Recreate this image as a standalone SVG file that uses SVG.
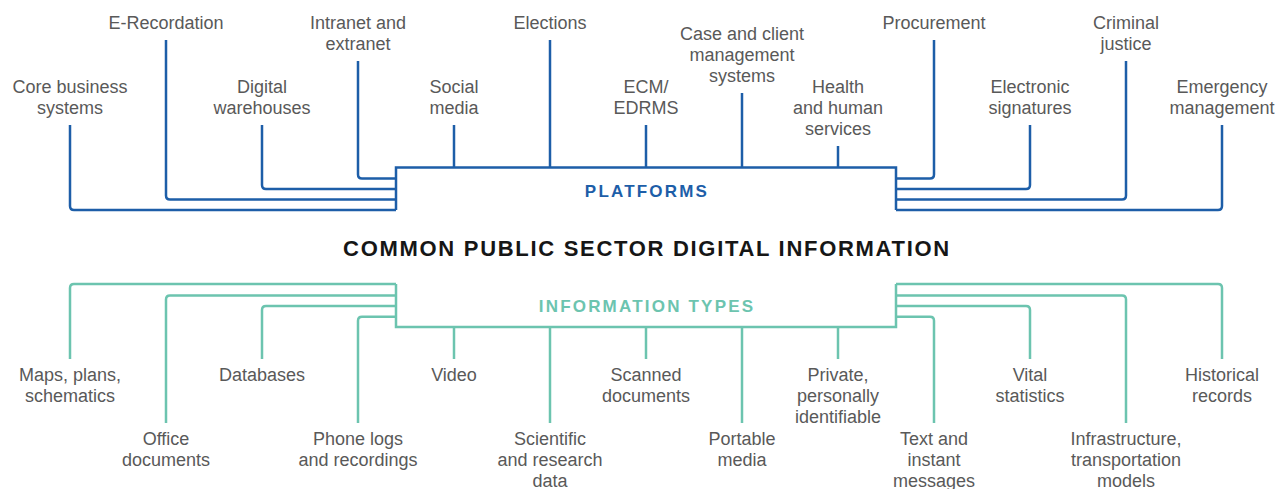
<svg xmlns="http://www.w3.org/2000/svg" width="1288" height="489" viewBox="0 0 1288 489">
<style>
.lbl{font-family:"Liberation Sans",Arial,sans-serif;font-size:18px;fill:#595959;text-anchor:middle}
.blue{fill:none;stroke:#1d5ea8;stroke-width:2.5}
.teal{fill:none;stroke:#6cc4af;stroke-width:2.5}
.cap{font-family:"Liberation Sans",Arial,sans-serif;font-size:17px;font-weight:bold;letter-spacing:2.2px;text-anchor:middle}
.title{font-family:"Liberation Sans",Arial,sans-serif;font-size:22px;font-weight:bold;letter-spacing:1.7px;fill:#161616;text-anchor:middle}
</style>
<rect width="1288" height="489" fill="#ffffff"/>
<g id="connectors">
<g class="blue">
<path d="M396,210 V167.5 H896 V210"/>
<path d="M70,125 V206 Q70,210 74,210 H396"/>
<path d="M166,40 V195.5 Q166,199.5 170,199.5 H396"/>
<path d="M262,125 V185 Q262,189 266,189 H396"/>
<path d="M358,61 V174.5 Q358,178.5 362,178.5 H396"/>
<path d="M454,125 V167.5"/>
<path d="M550,40 V167.5"/>
<path d="M646,125 V167.5"/>
<path d="M742,93 V167.5"/>
<path d="M838,146 V167.5"/>
<path d="M934,40 V174.5 Q934,178.5 930,178.5 H896"/>
<path d="M1030,125 V185 Q1030,189 1026,189 H896"/>
<path d="M1126,61 V195.5 Q1126,199.5 1122,199.5 H896"/>
<path d="M1222,125 V206 Q1222,210 1218,210 H896"/>
</g>
<g class="teal">
<path d="M396,284 V327 H896 V284"/>
<path d="M70,359 V288 Q70,284 74,284 H396"/>
<path d="M166,423 V299.5 Q166,295.5 170,295.5 H396"/>
<path d="M262,359 V310 Q262,306 266,306 H396"/>
<path d="M358,423 V320.7 Q358,316.7 362,316.7 H396"/>
<path d="M454,327 V359"/>
<path d="M550,327 V423"/>
<path d="M646,327 V359"/>
<path d="M742,327 V423"/>
<path d="M838,327 V359"/>
<path d="M934,423 V320.7 Q934,316.7 930,316.7 H896"/>
<path d="M1030,359 V310 Q1030,306 1026,306 H896"/>
<path d="M1126,423 V299.5 Q1126,295.5 1122,295.5 H896"/>
<path d="M1222,359 V288 Q1222,284 1218,284 H896"/>
</g>
</g>
<g id="platforms"><text class="cap" x="647" y="196.5" fill="#1d5ea8">PLATFORMS</text></g>
<g id="title"><text class="title" x="647" y="255.5">COMMON PUBLIC SECTOR DIGITAL INFORMATION</text></g>
<g id="information-types"><text class="cap" x="647" y="312" fill="#6cc4af">INFORMATION TYPES</text></g>
<g id="core-business"><text class="lbl" x="70" y="93"><tspan x="70">Core business</tspan><tspan x="70" dy="21">systems</tspan></text></g>
<g id="e-recordation"><text class="lbl" x="166" y="29">E-Recordation</text></g>
<g id="digital-warehouses"><text class="lbl" x="262" y="93"><tspan x="262">Digital</tspan><tspan x="262" dy="21">warehouses</tspan></text></g>
<g id="intranet"><text class="lbl" x="358" y="29"><tspan x="358">Intranet and</tspan><tspan x="358" dy="21">extranet</tspan></text></g>
<g id="social-media"><text class="lbl" x="454" y="93"><tspan x="454">Social</tspan><tspan x="454" dy="21">media</tspan></text></g>
<g id="elections"><text class="lbl" x="550" y="29">Elections</text></g>
<g id="ecm"><text class="lbl" x="646" y="93"><tspan x="646">ECM/</tspan><tspan x="646" dy="21">EDRMS</tspan></text></g>
<g id="case-client"><text class="lbl" x="742" y="40"><tspan x="742">Case and client</tspan><tspan x="742" dy="21">management</tspan><tspan x="742" dy="21">systems</tspan></text></g>
<g id="health"><text class="lbl" x="838" y="93"><tspan x="838">Health</tspan><tspan x="838" dy="21">and human</tspan><tspan x="838" dy="21">services</tspan></text></g>
<g id="procurement"><text class="lbl" x="934" y="29">Procurement</text></g>
<g id="electronic-signatures"><text class="lbl" x="1030" y="93"><tspan x="1030">Electronic</tspan><tspan x="1030" dy="21">signatures</tspan></text></g>
<g id="criminal-justice"><text class="lbl" x="1126" y="29"><tspan x="1126">Criminal</tspan><tspan x="1126" dy="21">justice</tspan></text></g>
<g id="emergency"><text class="lbl" x="1222" y="93"><tspan x="1222">Emergency</tspan><tspan x="1222" dy="21">management</tspan></text></g>
<g id="maps"><text class="lbl" x="70" y="381"><tspan x="70">Maps, plans,</tspan><tspan x="70" dy="21">schematics</tspan></text></g>
<g id="office"><text class="lbl" x="166" y="445"><tspan x="166">Office</tspan><tspan x="166" dy="21">documents</tspan></text></g>
<g id="databases"><text class="lbl" x="262" y="381">Databases</text></g>
<g id="phone-logs"><text class="lbl" x="358" y="445"><tspan x="358">Phone logs</tspan><tspan x="358" dy="21">and recordings</tspan></text></g>
<g id="video"><text class="lbl" x="454" y="381">Video</text></g>
<g id="scientific"><text class="lbl" x="550" y="445"><tspan x="550">Scientific</tspan><tspan x="550" dy="21">and research</tspan><tspan x="550" dy="21">data</tspan></text></g>
<g id="scanned"><text class="lbl" x="646" y="381"><tspan x="646">Scanned</tspan><tspan x="646" dy="21">documents</tspan></text></g>
<g id="portable"><text class="lbl" x="742" y="445"><tspan x="742">Portable</tspan><tspan x="742" dy="21">media</tspan></text></g>
<g id="private"><text class="lbl" x="838" y="381"><tspan x="838">Private,</tspan><tspan x="838" dy="21">personally</tspan><tspan x="838" dy="21">identifiable</tspan></text></g>
<g id="text-messages"><text class="lbl" x="934" y="445"><tspan x="934">Text and</tspan><tspan x="934" dy="21">instant</tspan><tspan x="934" dy="21">messages</tspan></text></g>
<g id="vital"><text class="lbl" x="1030" y="381"><tspan x="1030">Vital</tspan><tspan x="1030" dy="21">statistics</tspan></text></g>
<g id="infrastructure"><text class="lbl" x="1126" y="445"><tspan x="1126">Infrastructure,</tspan><tspan x="1126" dy="21">transportation</tspan><tspan x="1126" dy="21">models</tspan></text></g>
<g id="historical"><text class="lbl" x="1222" y="381"><tspan x="1222">Historical</tspan><tspan x="1222" dy="21">records</tspan></text></g>
</svg>
